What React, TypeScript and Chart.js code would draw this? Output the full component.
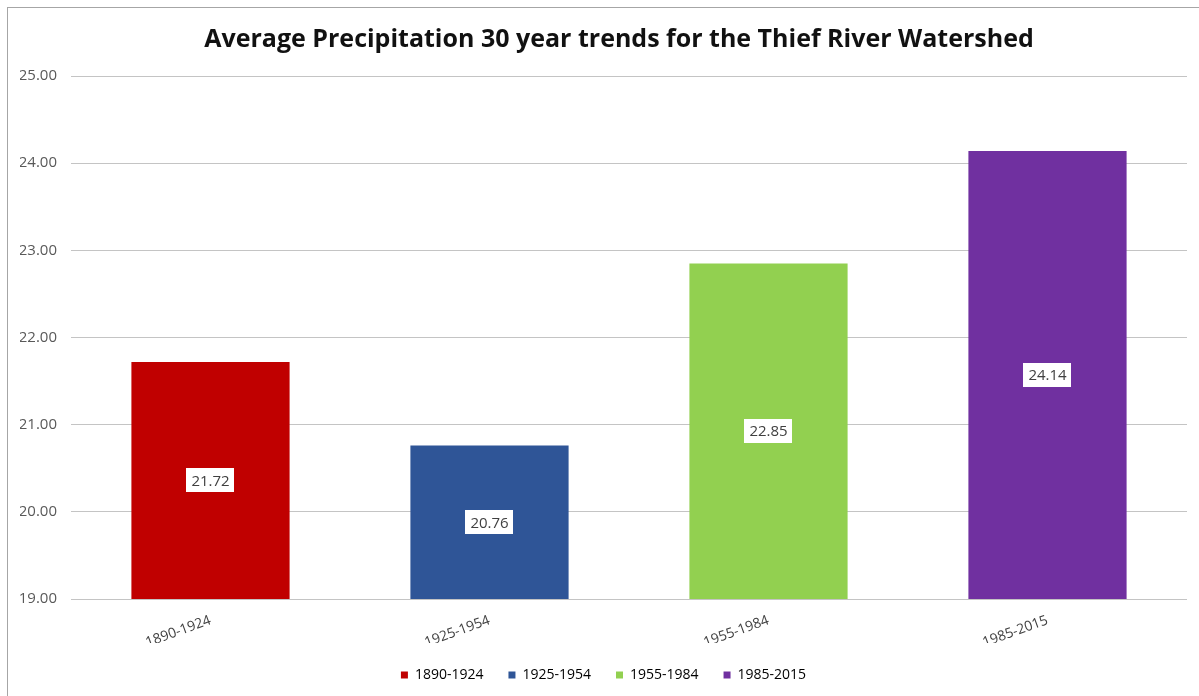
import React, { useEffect, useRef } from "react";
import { Chart, registerables } from "chart.js";

Chart.register(...registerables);

const TITLE = "Average Precipitation 30 year trends for the Thief River Watershed";
const periods = ["1890-1924", "1925-1954", "1955-1984", "1985-2015"];
const precipitation = [21.72, 20.76, 22.85, 24.14];
const barColors = ["#C00000", "#2F5597", "#92D050", "#7030A0"];
const yMin = 19;
const yMax = 25;
const yStep = 1;

const FONT = '"Open Sans", "Noto Sans", sans-serif';

const titlePlugin = {
  id: "customTitle",
  afterDraw(chart: any) {
    const ctx = chart.ctx;
    ctx.save();
    ctx.font = `bold 25px ${FONT}`;
    ctx.fillStyle = "#111111";
    ctx.textAlign = "center";
    ctx.textBaseline = "middle";
    ctx.fillText(TITLE, 619, 40);
    ctx.restore();
  },
};

const valueLabelPlugin = {
  id: "valueLabels",
  afterDraw(chart: any) {
    const ctx = chart.ctx;
    const xScale = chart.scales.x;
    const yScale = chart.scales.y;
    const basePx = yScale.getPixelForValue(yMin);
    ctx.save();
    ctx.font = `15px ${FONT}`;
    ctx.textAlign = "center";
    ctx.textBaseline = "middle";
    precipitation.forEach((v, i) => {
      const x = xScale.getPixelForValue(i);
      const topPx = yScale.getPixelForValue(v);
      const cy = (topPx + basePx) / 2;
      const text = v.toFixed(2);
      const w = ctx.measureText(text).width + 10;
      const h = 24;
      ctx.fillStyle = "#ffffff";
      ctx.fillRect(Math.round(x - w / 2), Math.round(cy - h / 2), Math.round(w), h);
      ctx.fillStyle = "#404040";
      ctx.fillText(text, x, cy + 1);
    });
    ctx.restore();
  },
};

export default function App() {
  const canvasRef = useRef<HTMLCanvasElement | null>(null);

  useEffect(() => {
    document.body.style.margin = "0";
    const canvas = canvasRef.current;
    if (!canvas) return;
    const chart = new Chart(canvas, {
      type: "bar",
      data: {
        labels: periods,
        datasets: [
          {
            label: "Precipitation",
            data: precipitation,
            backgroundColor: barColors,
            borderWidth: 0,
            categoryPercentage: 1,
            barPercentage: 0.567,
          },
        ],
      },
      options: {
        responsive: false,
        animation: false,
        devicePixelRatio: 1,
        layout: { padding: { top: 76, left: 20, right: 12, bottom: 4 } },
        plugins: {
          title: { display: false },
          tooltip: { enabled: false },
          legend: {
            display: true,
            position: "bottom",
            onClick: () => {},
            labels: {
              boxWidth: 7,
              boxHeight: 7,
              padding: 25,
              color: "#404040",
              font: { family: FONT, size: 14 },
              generateLabels: () =>
                periods.map((p, i) => ({
                  text: p,
                  fillStyle: barColors[i],
                  strokeStyle: barColors[i],
                  lineWidth: 0,
                  hidden: false,
                  index: i,
                  datasetIndex: 0,
                })),
            },
          },
        },
        scales: {
          x: {
            grid: { display: false },
            border: { display: false },
            ticks: {
              autoSkip: false,
              minRotation: 20,
              maxRotation: 20,
              padding: 5,
              color: "#404040",
              font: { family: FONT, size: 14 },
            },
            afterFit: (scale: any) => {
              scale.height = 44;
            },
          },
          y: {
            min: yMin,
            max: yMax,
            border: { display: false },
            grid: { color: "#c4c4c4", lineWidth: 1, drawTicks: false },
            ticks: {
              stepSize: yStep,
              padding: 14,
              color: "#595959",
              font: { family: FONT, size: 15 },
              callback: (v: any) => Number(v).toFixed(2),
            },
            afterFit: (scale: any) => {
              scale.width = 51;
            },
          },
        },
      },
      plugins: [titlePlugin, valueLabelPlugin],
    });
    return () => chart.destroy();
  }, []);

  return (
    <div style={{ position: "relative", width: 1199, height: 696, background: "#fff", overflow: "hidden" }}>
      <div
        style={{
          position: "absolute",
          left: 7,
          top: 7,
          width: 1199,
          height: 696,
          borderLeft: "1px solid #a6a6a6",
          borderTop: "1px solid #a6a6a6",
        }}
      />
      <canvas
        ref={canvasRef}
        width={1199}
        height={696}
        style={{ position: "absolute", left: 0, top: 0, width: 1199, height: 696 }}
      />
    </div>
  );
}
